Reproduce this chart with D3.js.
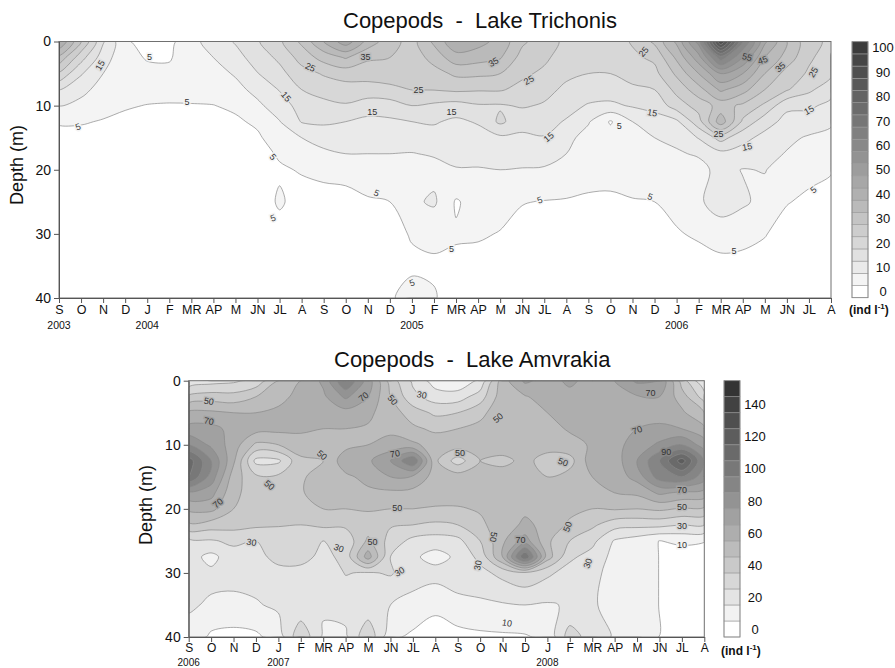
<!DOCTYPE html>
<html>
<head>
<meta charset="utf-8">
<script src="https://cdn.jsdelivr.net/npm/d3@7"></script>
<style>
  body { margin: 0; background: #fff; }
  svg { display: block; font-family: "Liberation Sans", Arial, sans-serif; }
</style>
</head>
<body>
<svg id="chart" width="895" height="668"></svg>
<script>
// month ticks, one cycle (S..A)
const monthCycle = ["S", "O", "N", "D", "J", "F", "MR", "AP", "M", "JN", "JL", "A"]

// Lake Trichonis: depth rows and one profile per month (S 2003 .. A 2006), ind/l
const trichonisDepths = [0, 2.5, 5, 7.5, 10, 12.5, 15, 17.5, 20, 25, 30, 35, 40]
const trichonisYears = ["2003", "2004", "2005", "2006"]
const trichonisYearAt = [0, 4, 16, 28]
const trichonisCols = [
  [45, 33.5, 24, 15, 10, 5.4, 3.5, 2.5, 2, 1.5, 1.5, 1.5, 1.5],
  [30, 22, 15.5, 11.5, 8.5, 5.4, 3.5, 2.5, 2, 1.5, 1.5, 1.5, 1.5],
  [15.5, 12.5, 10, 8, 6.5, 4.7, 3.5, 2.5, 2, 1.5, 1.5, 1.5, 1.5],
  [5.5, 6.3, 7, 6.8, 5.3, 4.3, 3, 2.5, 2, 1.5, 1.5, 1.5, 1.5],
  [3.5, 4.7, 6, 6.2, 4.9, 3.8, 3, 2.5, 2, 1.5, 1.5, 1.5, 1.5],
  [3.5, 4.6, 6, 6, 4.8, 3.5, 3, 2.5, 2, 1.5, 1.5, 1.5, 1.5],
  [8.5, 7.5, 7, 6.3, 4.8, 3.6, 3, 2.5, 2, 1.5, 1.5, 1.5, 1.5],
  [12, 10, 8.2, 6.8, 4.9, 3.8, 3, 2.5, 2, 1.5, 1.5, 1.5, 1.5],
  [15.5, 13, 10.5, 8.5, 5.8, 4.3, 3.5, 2.5, 2, 2, 1.5, 1.5, 1.5],
  [19.5, 17.5, 14.8, 11.5, 9, 5.8, 4.3, 3.5, 3, 3, 2.5, 2, 2],
  [24, 21, 18.5, 15.3, 12.5, 9.8, 7.5, 5.5, 4.5, 5.5, 3.5, 3, 2.5],
  [31, 27, 23, 20, 17, 15.3, 10, 7.7, 5.3, 3.5, 3, 2.5, 2.5],
  [40, 32, 25.5, 22, 18.5, 15.8, 12, 9, 5.8, 3.8, 3.2, 3, 3],
  [48, 35.5, 27, 23, 19.5, 15, 12.5, 10, 6, 4, 3.5, 3, 3],
  [38, 31, 26.5, 23.5, 17, 14, 12, 10, 8, 4.4, 3.5, 3, 3],
  [32, 30, 27, 24, 17.5, 14.2, 11.5, 10, 8, 5, 3.8, 3.5, 4.5],
  [28, 27, 26, 25.1, 20, 15, 12.5, 9.8, 7.5, 9, 5.3, 4.3, 6.5],
  [36, 32, 28, 25.2, 19, 15.5, 13, 10.5, 8.3, 10.8, 5.8, 4.5, 5.3],
  [44, 38, 31, 26, 18, 14, 12.5, 11, 9.8, 4.5, 5.5, 4, 3],
  [42, 37, 31, 25.5, 19.5, 15.5, 13, 11.5, 9.7, 7, 5.5, 3.5, 3],
  [38, 35.5, 30, 25.5, 19.5, 21, 14, 11.5, 10, 6.5, 4.8, 3.5, 3],
  [31, 28, 26, 23.5, 20.5, 17, 14, 11.5, 9.8, 5.2, 3.5, 3, 2.5],
  [27, 26, 24, 21.5, 19.5, 17, 14.7, 12, 9.5, 4.8, 3.5, 3, 2.5],
  [24, 22.5, 21, 19, 17, 14.5, 11.5, 10, 7.5, 4.7, 3.5, 3, 2.5],
  [22, 21.5, 20, 18, 14.5, 10.5, 8, 7, 6, 4.6, 3.5, 3, 2.5],
  [22, 21.5, 20, 17.5, 14, 4.5, 7, 7, 6, 4.5, 3.5, 3, 2.5],
  [25.5, 24, 22, 19, 15.5, 10, 8.5, 7.5, 6.5, 4.8, 3.5, 3, 2.5],
  [31, 26, 23.5, 20, 16.5, 13, 10, 8, 6.5, 5, 4, 3.5, 3],
  [41, 36, 31, 26.5, 22.5, 14, 11, 9.5, 7.5, 6, 4.7, 3.5, 3],
  [57, 48, 40, 33, 27, 23, 15.3, 10.5, 8.5, 9.2, 5.5, 3.5, 3],
  [95, 68, 50, 41, 32, 38, 22, 13.5, 11.5, 12.5, 7.2, 3.5, 3],
  [65, 55, 45, 37, 29, 24, 16.5, 13, 9.8, 10.8, 6.5, 3.5, 3],
  [46, 40, 35, 30, 24, 17, 13.5, 11.5, 10.2, 8.5, 5.2, 3.5, 3],
  [35, 33, 28, 25.5, 16, 13.5, 11, 9.7, 8, 5.2, 3.5, 3, 2.5],
  [26.5, 25.8, 24.3, 21, 16, 12.5, 9.5, 7.5, 6, 4.3, 3, 2.5, 2],
  [24, 22.5, 21, 17, 13.5, 10.8, 8.5, 6.8, 5.3, 3.5, 3, 2.5, 2]
]
// contour labels: [value, month index, depth, rotation]
const trichonisLabels = [
  [15, 1.86, 3.7, -60], [5, 4.1, 2.4, 0], [5, 0.86, 13.3, -20], [5, 5.8, 9.4, 0],
  [25, 11.4, 4.0, 25], [35, 13.9, 2.4, 0], [15, 10.3, 8.6, 50], [25, 16.3, 7.6, 0],
  [15, 14.2, 11, 0], [5, 9.7, 18, 50], [5, 9.7, 27.5, -20], [5, 14.4, 23.6, 25],
  [5, 16, 37.6, -20], [35, 19.7, 3.2, -30], [25, 21.3, 6, -30], [15, 17.8, 11, 0],
  [15, 22.2, 14.9, -40], [5, 25.4, 13.2, 0], [25, 26.5, 1.6, -50], [15, 26.9, 11.1, 10],
  [55, 31.2, 2.4, 15], [45, 31.9, 2.9, -20], [35, 32.7, 4, -40], [25, 34.2, 4.8, -60],
  [15, 34, 10.7, -30], [25, 29.9, 14.4, 0], [15, 31.2, 16.4, -10], [5, 21.8, 24.7, -20],
  [5, 17.8, 32.3, 0], [5, 26.8, 24.2, 20], [5, 30.6, 32.6, 0], [5, 34.2, 23.1, -40]
]

// Lake Amvrakia: depth rows and one profile per month (S 2006 .. A 2008), ind/l
const amvrakiaDepths = [0, 2.5, 5, 7.5, 10, 12.5, 15, 17.5, 20, 22.5, 25, 27.5, 30, 35, 40]
const amvrakiaYears = ["2006", "2007", "2008"]
const amvrakiaYearAt = [0, 4, 16]
const amvrakiaCols = [
  [22, 42, 62, 73, 89, 115, 110, 77, 62, 48, 27, 24, 22, 21, 17],
  [26, 45, 62, 73, 78, 90, 86, 74, 63, 45, 29, 17, 22, 19, 8],
  [28, 44, 60, 67, 65, 62, 55, 52, 50, 44, 32, 26, 24, 17, 7],
  [33, 50, 60, 64, 48, 27, 42, 46, 45, 42, 30, 26, 24, 19, 8],
  [50, 57, 62, 63, 50, 28, 42, 45, 44, 41, 32, 34, 26, 22, 14],
  [60, 63, 64, 62, 55, 48, 48, 49, 47, 40, 30.5, 35, 25, 22, 38],
  [72, 68, 65, 60, 55, 50, 56, 55, 50, 42, 30, 26, 24, 22, 18],
  [100, 82, 66, 60, 57, 66, 58, 55, 50, 42, 33, 34, 30.5, 24, 18],
  [75, 70, 62, 59, 60, 68, 63, 58, 51, 45, 52, 65, 29, 23, 38],
  [45, 50, 55, 58, 63, 80, 70, 58, 50, 41, 36, 30, 31, 20, 12],
  [28, 33, 45, 52, 62, 100, 68, 57, 50, 40, 27, 22, 24, 17, 8],
  [15, 25, 38, 48, 56, 52, 56, 55, 49, 38, 25, 16, 24, 12, 6],
  [12, 25, 40, 50, 55, 35, 55, 55, 49, 40, 27, 22, 27, 16, 7],
  [22, 35, 47, 53, 56, 50, 56, 56, 51, 48, 40, 33, 27, 18, 8],
  [55, 56, 57, 58, 58, 46, 57, 57, 55, 55, 58, 60, 33, 19, 8.5],
  [72, 59, 57, 56, 57, 54, 57, 58, 58, 62, 75, 110, 38, 20, 9],
  [66, 65, 60, 57, 56, 44, 50, 57, 57, 57, 52, 55, 32, 19, 12],
  [72, 67, 64, 61, 57, 46, 54, 55, 53, 48, 40, 32, 26, 21, 35],
  [66, 66, 65, 64, 61, 66, 60, 56, 50, 42, 33, 26, 23, 21, 25],
  [70, 68, 66, 66, 67, 65, 64, 60, 51, 34, 19, 17, 16, 17, 19],
  [82, 69, 66, 70, 74, 80, 74, 62, 50, 33, 15, 15, 15, 15, 15],
  [80, 70, 66, 72, 82, 100, 95, 72, 52, 33, 9.8, 9.8, 9.8, 9.8, 9.8],
  [45, 55, 62, 70, 90, 125, 100, 68, 49, 30, 12, 5, 4, 4, 4],
  [20, 35, 50, 62, 75, 90, 85, 66, 48, 30, 10.5, 4, 3, 3, 3]
]
const amvrakiaLabels = [
  [50, 0.9, 3.2, 10], [70, 0.9, 6.3, 10], [70, 7.8, 2.5, -40], [50, 9.1, 3, 50],
  [30, 10.4, 2.2, 10], [50, 13.8, 5.8, -40], [70, 20.6, 1.9, 0], [70, 20, 7.7, -20],
  [50, 5.95, 11.6, 40], [50, 3.6, 16.3, 40], [70, 9.2, 11.4, -10], [50, 12.1, 11.3, 0],
  [50, 16.7, 12.7, 20], [90, 21.3, 11.1, 0], [70, 22, 17.1, 0], [70, 1.3, 19.1, -40],
  [50, 9.3, 19.9, 0], [50, 22, 19.7, 0], [30, 22, 22.6, 0], [10, 22, 25.6, 0],
  [30, 2.8, 25.2, 10], [50, 8.2, 25.2, 0], [30, 6.7, 26.1, 20], [30, 9.4, 29.8, -30],
  [50, 13.6, 24.4, 100], [70, 14.8, 24.9, 0], [50, 16.9, 22.8, -70], [30, 12.9, 28.8, -80],
  [30, 17.8, 28.5, -70], [10, 14.2, 37.8, 10]
]

const svg = d3.select("#chart")
const smooth = d3.line().curve(d3.curveCatmullRomClosed.alpha(0.5))

function drawPanel(p) {
  const nx = p.cols.length
  const ny = p.depths.length
  const values = []
  for (let j = 0; j < ny; j++) for (let i = 0; i < nx; i++) values.push(p.cols[i][j])

  const x = d3.scaleLinear().domain([0, nx - 1]).range(p.xRange)
  const y = d3.scaleLinear().domain([0, 40]).range(p.yRange)
  const rowDepth = d3.scaleLinear().domain(d3.range(ny)).range(p.depths)

  const px = c => x(Math.max(0, Math.min(nx - 1, c[0] - 0.5)))
  const py = c => y(rowDepth(Math.max(0, Math.min(ny - 1, c[1] - 0.5))))

  function ringPath(ring) {
    const pts = []
    ring.forEach(c => {
      const q = [px(c), py(c)]
      const last = pts[pts.length - 1]
      if (!last || Math.abs(last[0] - q[0]) > 0.05 || Math.abs(last[1] - q[1]) > 0.05) pts.push(q)
    })
    const f = pts[0], l = pts[pts.length - 1]
    if (pts.length > 1 && Math.abs(f[0] - l[0]) < 0.05 && Math.abs(f[1] - l[1]) < 0.05) pts.pop()
    return pts.length < 3 ? "" : smooth(pts)
  }

  const contours = d3.contours().size([nx, ny]).thresholds(p.levels)(values)
  const paths = contours.map(c => c.coordinates.map(poly => poly.map(ringPath).join("")).join(""))

  const [x0, x1] = p.xRange
  const [y0, y1] = p.yRange

  svg.append("clipPath").attr("id", p.id + "-clip")
    .append("rect").attr("x", x0).attr("y", y0).attr("width", x1 - x0).attr("height", y1 - y0)

  const plot = svg.append("g").attr("clip-path", `url(#${p.id}-clip)`)

  plot.append("rect")
    .attr("x", x0).attr("y", y0).attr("width", x1 - x0).attr("height", y1 - y0)
    .attr("fill", p.color(0))

  plot.append("g").selectAll("path")
    .data(contours)
    .join("path")
    .attr("d", (d, k) => paths[k])
    .attr("fill", (d, k) => p.color(k))
    .attr("fill-rule", "evenodd")

  plot.append("g").selectAll("path")
    .data(contours.slice(1))
    .join("path")
    .attr("d", (d, k) => paths[k + 1])
    .attr("fill", "none")
    .attr("stroke", "#8a8a8a")
    .attr("stroke-width", 0.7)

  // contour labels
  plot.append("g").selectAll("text")
    .data(p.labels)
    .join("text")
    .attr("transform", d => `translate(${x(d[1])},${y(d[2])}) rotate(${d[3]})`)
    .attr("text-anchor", "middle")
    .attr("dy", "0.35em")
    .attr("font-size", 9)
    .attr("fill", "#333")
    .attr("stroke", d => p.color(p.levels.indexOf(d[0])))
    .attr("stroke-width", 3)
    .attr("paint-order", "stroke")
    .text(d => d[0])

  // frame
  svg.append("rect")
    .attr("x", x0).attr("y", y0).attr("width", x1 - x0).attr("height", y1 - y0)
    .attr("fill", "none").attr("stroke", "#707070").attr("stroke-width", 1)

  // axes
  const yAxis = svg.append("g")
    .attr("transform", `translate(${x0},0)`)
    .call(d3.axisLeft(y).tickValues([0, 10, 20, 30, 40]).tickSize(5).tickSizeOuter(0).tickPadding(3))
  yAxis.selectAll("text").attr("font-size", 14).attr("fill", "#111")
    .attr("font-family", "Liberation Sans, Arial, sans-serif")

  const xAxis = svg.append("g")
    .attr("transform", `translate(0,${y1})`)
    .call(d3.axisBottom(x).tickValues(d3.range(nx)).tickFormat(i => monthCycle[i % 12])
      .tickSize(5).tickSizeOuter(0).tickPadding(p.xPad))
  xAxis.selectAll("text").attr("font-size", p.monthSize).attr("fill", "#111")
    .attr("font-family", "Liberation Sans, Arial, sans-serif")

  ;[yAxis, xAxis].forEach(a => {
    a.select(".domain").attr("stroke", "#555")
    a.selectAll(".tick line").attr("stroke", "#555")
  })

  svg.append("g").selectAll("text")
    .data(p.years)
    .join("text")
    .attr("x", (d, k) => x(p.yearAt[k]))
    .attr("y", p.yearY)
    .attr("text-anchor", "middle")
    .attr("font-size", p.yearSize)
    .attr("fill", "#111")
    .text(d => d)

  // titles
  svg.append("text")
    .attr("x", p.titleX).attr("y", p.titleY)
    .attr("font-size", 22).attr("fill", "#111")
    .style("white-space", "pre")
    .text(p.title)

  svg.append("text")
    .attr("transform", `translate(${p.yLabel[0]},${p.yLabel[1]}) rotate(-90)`)
    .attr("text-anchor", "middle")
    .attr("font-size", 18).attr("fill", "#111")
    .text("Depth (m)")

  // legend
  const lg = p.legend
  const nb = p.levels.length
  const bh = (lg.y1 - lg.y0) / nb
  svg.append("g").selectAll("rect")
    .data(p.levels)
    .join("rect")
    .attr("x", lg.x)
    .attr("y", (d, k) => lg.y1 - (k + 1) * bh)
    .attr("width", lg.w)
    .attr("height", bh)
    .attr("fill", (d, k) => p.color(k))
    .attr("stroke", "#9a9a9a")
    .attr("stroke-width", 0.6)

  svg.append("rect")
    .attr("x", lg.x).attr("y", lg.y0).attr("width", lg.w).attr("height", lg.y1 - lg.y0)
    .attr("fill", "none").attr("stroke", "#888").attr("stroke-width", 0.8)

  svg.append("g").selectAll("text")
    .data(p.legendTicks)
    .join("text")
    .attr("x", lg.x + lg.w + 15)
    .attr("y", v => lg.y1 - (p.levels.indexOf(v) + 0.5) * bh)
    .attr("dy", "0.36em")
    .attr("text-anchor", "middle")
    .attr("font-size", 13)
    .attr("fill", "#111")
    .text(v => v)

  const unit = svg.append("text")
    .attr("x", lg.x - 3).attr("y", lg.unitY)
    .attr("font-size", 12).attr("font-weight", "bold").attr("fill", "#111")
  unit.append("tspan").text("(ind l")
  unit.append("tspan").attr("font-size", 8).attr("dy", -5).text("-1")
  unit.append("tspan").attr("dy", 5).text(")")
}

const trichonisGray = d3.scaleLinear().domain([1, 20]).range([244, 60])
drawPanel({
  id: "tri",
  cols: trichonisCols,
  depths: trichonisDepths,
  levels: d3.range(0, 101, 5),
  color: k => k === 0 ? "#ffffff" : d3.rgb(trichonisGray(k), trichonisGray(k), trichonisGray(k)).formatHex(),
  labels: trichonisLabels,
  xRange: [59, 831],
  yRange: [41.5, 298],
  xPad: 2,
  monthSize: 12.5,
  years: trichonisYears,
  yearAt: trichonisYearAt,
  yearY: 329,
  yearSize: 10.5,
  title: "Copepods  -  Lake Trichonis",
  titleX: 343, titleY: 28,
  yLabel: [23, 165],
  legend: { x: 852, w: 16, y0: 41.7, y1: 297.7, unitY: 314 },
  legendTicks: d3.range(0, 101, 10)
})

const amvrakiaGray = d3.scaleLinear().domain([1, 15]).range([242, 52])
drawPanel({
  id: "amv",
  cols: amvrakiaCols,
  depths: amvrakiaDepths,
  levels: d3.range(0, 151, 10),
  color: k => k === 0 ? "#ffffff" : d3.rgb(amvrakiaGray(k), amvrakiaGray(k), amvrakiaGray(k)).formatHex(),
  labels: amvrakiaLabels,
  xRange: [188.7, 704.3],
  yRange: [380.7, 637],
  xPad: 1,
  monthSize: 12,
  years: amvrakiaYears,
  yearAt: amvrakiaYearAt,
  yearY: 665.6,
  yearSize: 10,
  title: "Copepods  -  Lake Amvrakia",
  titleX: 334, titleY: 367,
  yLabel: [152, 505],
  legend: { x: 724, w: 16, y0: 380.7, y1: 637, unitY: 655 },
  legendTicks: d3.range(0, 141, 20)
})
</script>
</body>
</html>
